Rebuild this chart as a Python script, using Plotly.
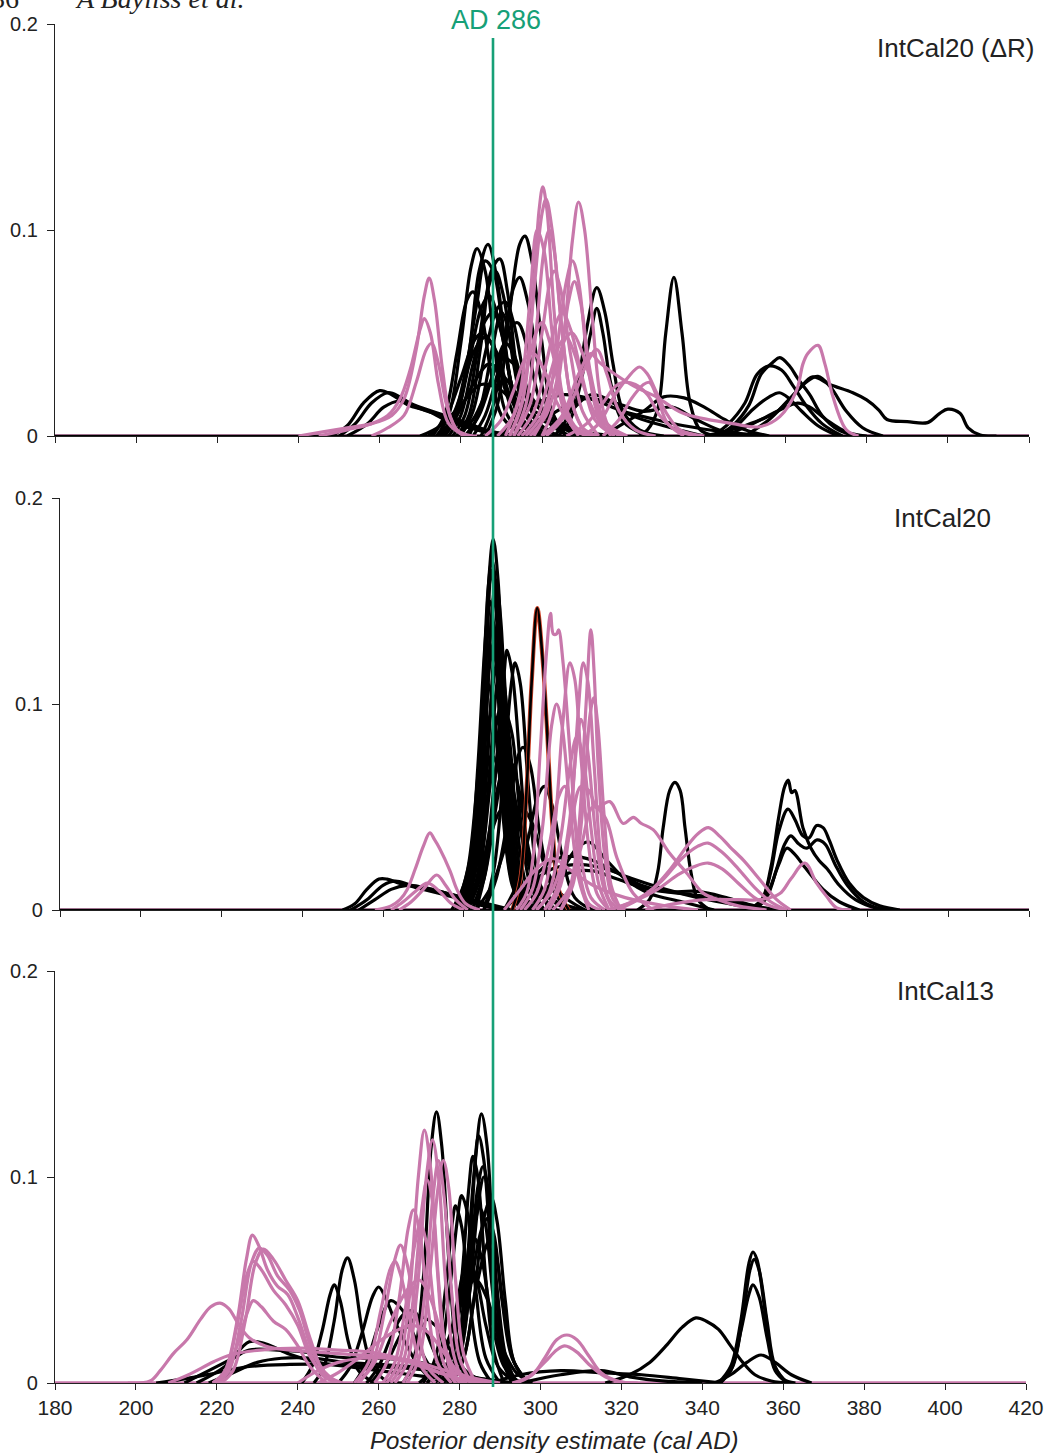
import plotly.graph_objects as go

# ---------------- DATA (year AD, posterior density) ----------------
X_RANGE = [180, 420]
X_TICKS = [180, 200, 220, 240, 260, 280, 300, 320, 340, 360, 380, 400, 420]
Y_TICKS = [0, 0.1, 0.2]
Y_TICKTEXT = ["0", "0.1", "0.2"]
BASE_X = [180, 420]
BASE_Y = [0, 0]
PANEL_LABELS = ["IntCal20 (\u0394R)", "IntCal20", "IntCal13"]
MARKER_LABEL = "AD 286"
X_TITLE = "Posterior density estimate (cal AD)"

# Panel 1: IntCal20 (ΔR)
P1_BLACK = [
    [(276,0),(279,0.01),(282,0.04),(284.5,0.08),(286.7,0.093),(289,0.075),(291.5,0.035),(294,0.01),(298,0.002),(302,0)],
    [(274,0),(277,0.01),(280,0.045),(282.5,0.082),(284,0.091),(286,0.08),(288.5,0.04),(291,0.012),(295,0.002),(300,0)],
    [(279,0),(282,0.01),(285,0.045),(287.5,0.08),(289.6,0.086),(291.5,0.07),(294,0.03),(297,0.008),(302,0)],
    [(286,0),(289,0.015),(292,0.06),(294.5,0.093),(295.8,0.097),(297.5,0.085),(300,0.045),(302.5,0.012),(306,0)],
    [(285,0),(288,0.015),(291,0.05),(293,0.072),(294.5,0.077),(296.5,0.065),(299,0.035),(302,0.01),(306,0)],
    [(273,0),(276,0.01),(279,0.04),(281.5,0.066),(283,0.07),(285,0.06),(287.5,0.03),(290,0.01),(295,0)],
    [(277,0),(280,0.01),(283,0.035),(286,0.056),(288,0.06),(290,0.05),(292.5,0.025),(295,0.008),(300,0)],
    [(272,0),(276,0.008),(280,0.028),(283.5,0.047),(285.5,0.05),(288,0.043),(291,0.022),(294,0.007),(299,0)],
    [(281,0),(284.5,0.01),(288,0.03),(291,0.045),(293,0.04),(296,0.02),(299,0.006),(304,0)],
    [(275,0),(279,0.01),(283,0.025),(287,0.035),(291,0.028),(296,0.015),(302,0.008),(308,0.003),(314,0)],
    [(275,0),(278,0.008),(281,0.03),(284,0.065),(286,0.085),(288,0.08),(290.5,0.05),(293,0.02),(296,0.005),(300,0)],
    [(278,0),(281,0.01),(284,0.04),(286.5,0.07),(288.5,0.08),(290.5,0.068),(293,0.035),(296,0.01),(300,0)],
    [(276,0),(279,0.01),(282,0.035),(285,0.062),(287,0.068),(289.5,0.055),(292.5,0.025),(296,0.006),(300,0)],
    [(280,0),(283,0.012),(286,0.04),(289,0.062),(291,0.065),(293,0.055),(296,0.025),(299,0.007),(304,0)],
    [(274,0),(277,0.006),(280,0.02),(283,0.04),(286,0.048),(289,0.04),(292,0.02),(296,0.006),(301,0)],
    [(283,0),(286,0.01),(289,0.03),(292,0.052),(294,0.055),(296.5,0.042),(299,0.02),(302,0.006),(307,0)],
    [(279,0),(283,0.008),(287,0.025),(290,0.038),(293,0.035),(297,0.02),(302,0.008),(309,0)],
    [(270,0),(275,0.005),(280,0.015),(285,0.025),(290,0.022),(295,0.012),(302,0.006),(310,0.002),(318,0)],
    [(248,0),(252,0.005),(256,0.016),(260,0.022),(263,0.02),(267,0.015),(272,0.012),(276,0.008),(282,0.004),(290,0)],
    [(250,0),(254,0.006),(258,0.016),(262,0.021),(265,0.019),(269,0.014),(275,0.01),(280,0.006),(288,0.002),(295,0)],
    [(252,0),(257,0.006),(261,0.014),(265,0.017),(270,0.014),(276,0.01),(282,0.006),(290,0)],
    [(303,0),(306,0.008),(309,0.028),(311,0.052),(313.5,0.072),(315.5,0.06),(317.5,0.035),(320,0.012),(324,0.003),(330,0)],
    [(304,0),(307,0.008),(310,0.03),(312,0.05),(313.5,0.062),(315,0.05),(317,0.025),(320,0.007),(326,0)],
    [(324,0),(326,0.003),(328.5,0.013),(330.5,0.05),(332.5,0.077),(334.5,0.05),(336.5,0.016),(339,0.003),(343,0)],
    [(343,0),(347,0.005),(351,0.015),(354,0.03),(357,0.036),(358.6,0.038),(361,0.034),(363,0.028),(366,0.02),(369,0.01),(373,0.003),(378,0)],
    [(342,0),(346,0.006),(350,0.016),(353,0.03),(356,0.034),(359,0.032),(362,0.024),(365,0.015),(369,0.006),(374,0)],
    [(344,0),(348,0.005),(352,0.013),(356,0.019),(358.5,0.021),(361,0.018),(364,0.012),(368,0.005),(373,0)],
    [(340,0),(350,0.005),(358,0.012),(363,0.022),(366.7,0.0287),(370.9,0.025),(376.6,0.021),(380,0.0175),(383,0.0126),(385,0.008),(390,0.007),(395,0.0065),(398,0.011),(400,0.013),(403,0.011),(405,0.004),(408,0.0005),(412,0)],
    [(350,0),(356,0.008),(361,0.018),(365,0.026),(368,0.029),(371,0.024),(375,0.012),(379,0.004),(384,0)],
    [(290,0),(298,0.015),(305,0.02),(312,0.018),(320,0.012),(328,0.008),(335,0.005),(345,0.002),(355,0)],
    [(295,0),(302,0.01),(310,0.018),(318,0.016),(325,0.012),(332,0.014),(338,0.008),(345,0.002),(352,0)],
    [(300,0),(307,0.012),(312,0.02),(316,0.018),(322,0.01),(330,0.005),(340,0)],
    [(345,0),(352,0.006),(358,0.012),(363,0.016),(366,0.014),(370,0.008),(375,0.002),(380,0)],
    [(282,0),(285,0.015),(288,0.045),(290,0.06),(292,0.05),(295,0.025),(300,0.012),(306,0.005),(312,0)],
    [(315,0),(320,0.006),(325,0.012),(330,0.019),(335,0.0185),(340,0.014),(345,0.008),(350,0.003),(356,0)],
]
P1_PINK = [
    [(240,0),(246,0.002),(252,0.004),(258,0.006),(263,0.01),(266,0.018),(269,0.042),(271,0.068),(272.2,0.0767),(273.5,0.066),(275.5,0.032),(277.5,0.009),(280,0.001),(284,0)],
    [(245,0),(252,0.003),(258,0.006),(262,0.01),(265,0.018),(267.5,0.032),(270,0.052),(271,0.057),(272.5,0.05),(274.5,0.025),(277,0.006),(281,0)],
    [(258,0),(262,0.004),(266,0.01),(269,0.026),(271.5,0.042),(272.8,0.045),(274.5,0.035),(276.5,0.015),(279,0.003),(283,0)],
    [(292,0),(295,0.015),(297.5,0.06),(299.3,0.11),(300.2,0.121),(301.2,0.11),(303,0.06),(305,0.02),(308,0.003),(312,0)],
    [(292,0),(295.5,0.02),(298,0.07),(300,0.108),(301,0.115),(302.5,0.1),(304.5,0.06),(307,0.02),(310,0.004),(314,0)],
    [(300,0),(303,0.015),(305.5,0.05),(307.5,0.095),(309,0.1136),(310.5,0.1),(312.5,0.055),(314.5,0.018),(317,0.003),(321,0)],
    [(291,0),(294.5,0.02),(297,0.065),(298.8,0.1),(300.5,0.09),(302.5,0.05),(305,0.015),(309,0)],
    [(293,0),(297,0.015),(300,0.05),(302,0.075),(303,0.08),(304.5,0.072),(307,0.04),(310,0.012),(314,0)],
    [(294,0),(298,0.012),(301,0.035),(303.5,0.055),(305,0.06),(307,0.052),(310,0.028),(313,0.008),(318,0)],
    [(296,0),(300,0.01),(303,0.03),(306,0.048),(307.5,0.05),(310,0.04),(313,0.02),(316,0.006),(321,0)],
    [(301,0),(305,0.008),(308,0.02),(311,0.035),(313.5,0.042),(316,0.03),(319,0.012),(323,0.003),(328,0)],
    [(286,0),(290,0.008),(293,0.022),(296,0.038),(298,0.04),(300.5,0.032),(304,0.015),(308,0.004),(313,0)],
    [(310,0),(314,0.006),(318,0.02),(321,0.028),(324,0.0335),(326,0.03),(328,0.022),(331,0.01),(334,0.003),(340,0)],
    [(306,0),(311,0.006),(315,0.016),(318,0.024),(320,0.026),(323,0.025),(326,0.02),(329,0.01),(333,0.003),(338,0)],
    [(315,0),(319,0.008),(322,0.018),(325,0.025),(326.5,0.026),(328.5,0.018),(331,0.006),(335,0)],
    [(300,0),(305,0.01),(309,0.03),(312,0.04),(314,0.036),(318,0.03),(322,0.025),(326,0.021),(328.2,0.019),(334.8,0.011),(347,0.006),(353.6,0.0045),(358.6,0.0094),(362.7,0.022),(364.3,0.035),(365.5,0.04),(368,0.044),(369.7,0.035),(371.7,0.019),(375,0.003),(378,0)],
    [(289,0),(293,0.01),(296,0.03),(298.5,0.05),(300,0.055),(302,0.045),(305,0.02),(308,0.005),(312,0)],
    [(297,0),(301,0.01),(304,0.03),(306.5,0.065),(308,0.075),(309.5,0.065),(312,0.03),(315,0.008),(319,0)],
    [(293,0),(296,0.015),(298.5,0.05),(300.5,0.09),(301.8,0.1),(303,0.09),(305,0.05),(307.5,0.015),(311,0)],
    [(298,0),(301,0.012),(303.5,0.04),(306,0.075),(307.5,0.085),(309,0.075),(311,0.04),(313.5,0.012),(317,0)],
    [(295,0),(299,0.01),(302,0.03),(304.5,0.045),(306,0.048),(308,0.04),(311,0.02),(315,0.005),(320,0)],
]

# Panel 2: IntCal20
P2_BLACK = [
    [(280,0),(282.5,0.02),(284.5,0.08),(286.2,0.16),(287.3,0.18),(288.5,0.16),(290,0.09),(291.8,0.03),(294,0.005),(297,0)],
    [(279.5,0),(282,0.02),(284.2,0.08),(286,0.155),(287,0.17),(288.3,0.15),(289.8,0.08),(291.5,0.025),(294,0)],
    [(280.5,0),(283,0.02),(285,0.07),(287,0.145),(288,0.16),(289.2,0.14),(290.8,0.075),(292.5,0.025),(295,0)],
    [(279,0),(281.5,0.02),(283.5,0.07),(285.5,0.135),(286.5,0.15),(287.8,0.13),(289.5,0.065),(291.3,0.02),(294,0)],
    [(281,0),(283.5,0.018),(285.8,0.07),(287.5,0.125),(288.5,0.14),(289.8,0.12),(291.5,0.06),(293.3,0.018),(296,0)],
    [(279,0),(282,0.02),(284.5,0.07),(286.5,0.12),(287.5,0.13),(289,0.115),(291,0.06),(293,0.02),(296,0)],
    [(281,0),(284,0.02),(286.5,0.07),(288.2,0.11),(289,0.12),(290.3,0.105),(292.3,0.05),(294.5,0.012),(297,0)],
    [(283,0),(285.5,0.02),(288,0.07),(290,0.115),(290.7,0.126),(292,0.115),(294,0.07),(296,0.025),(299,0)],
    [(285,0),(287.5,0.02),(290,0.07),(291.8,0.11),(292.7,0.12),(294,0.11),(296,0.06),(298,0.02),(301,0)],
    [(278,0),(281,0.02),(283.5,0.065),(285.3,0.1),(286,0.11),(287.5,0.095),(289.5,0.05),(292,0.012),(295,0)],
    [(281,0),(284,0.02),(286.5,0.06),(288.5,0.095),(289.5,0.1),(291,0.088),(293,0.045),(295.5,0.012),(299,0)],
    [(279,0),(281.5,0.015),(283.8,0.06),(285.8,0.13),(286.8,0.165),(288,0.145),(289.6,0.075),(291.5,0.02),(294,0)],
    [(280,0),(282.8,0.02),(285,0.075),(286.8,0.14),(287.8,0.155),(289,0.135),(290.6,0.07),(292.5,0.02),(295,0)],
    [(280,0),(283,0.02),(285.3,0.065),(287.3,0.11),(288.3,0.12),(289.7,0.105),(291.5,0.055),(293.5,0.016),(296,0)],
    [(278,0),(281,0.015),(283.5,0.05),(285.5,0.085),(286.8,0.095),(288.5,0.082),(290.5,0.042),(293,0.01),(296,0)],
    [(282,0),(285,0.018),(287.5,0.06),(289.5,0.09),(290.5,0.095),(292,0.085),(294,0.045),(296.5,0.012),(300,0)],
    [(277,0),(280,0.012),(283,0.04),(285.5,0.068),(287,0.075),(289,0.065),(291.5,0.035),(294,0.01),(298,0)],
    [(281,0),(284,0.015),(287,0.045),(290,0.07),(291.5,0.072),(293.5,0.06),(296,0.03),(299,0.008),(303,0)],
    [(279,0),(283,0.012),(286,0.032),(289,0.048),(291,0.05),(294,0.04),(297,0.02),(301,0.006),(306,0)],
    [(285,0),(288,0.015),(291,0.045),(293.5,0.075),(294.7,0.079),(296.5,0.07),(299,0.035),(302,0.01),(306,0)],
    [(290,0),(293,0.012),(296,0.035),(298.5,0.056),(300,0.06),(302,0.05),(304.5,0.025),(307.5,0.006),(312,0)],
    [(250,0),(253,0.003),(256,0.01),(259,0.015),(261,0.015),(264,0.013),(268,0.011),(272,0.009),(276,0.007),(280,0.005),(285,0.002),(290,0)],
    [(252,0),(256,0.005),(260,0.012),(263,0.014),(267,0.012),(272,0.01),(278,0.007),(284,0.004),(292,0)],
    [(254,0),(258,0.005),(262,0.01),(266,0.012),(270,0.011),(276,0.008),(282,0.005),(290,0)],
    [(323,0),(326,0.005),(328,0.018),(329.4,0.04),(331,0.058),(332.3,0.062),(333.6,0.058),(334.8,0.04),(336.3,0.018),(338,0.005),(341,0)],
    [(350,0),(353.8,0.005),(356,0.02),(358,0.045),(359.5,0.06),(360.4,0.063),(361.2,0.057),(362,0.058),(364,0.04),(366,0.03),(368,0.024),(370,0.02),(373,0.012),(377,0.005),(382,0.001),(386,0)],
    [(352,0),(354,0.005),(356,0.018),(358,0.038),(360.3,0.049),(362,0.044),(364,0.036),(365.5,0.035),(367.4,0.041),(369,0.04),(370.5,0.034),(372.5,0.024),(375.5,0.013),(379,0.006),(383,0.002),(388,0)],
    [(352,0),(355,0.006),(357.5,0.02),(359.5,0.032),(361,0.036),(363,0.032),(365,0.03),(367.5,0.034),(369.5,0.032),(372,0.022),(375,0.012),(379,0.004),(384,0)],
    [(352,0),(355,0.007),(358,0.022),(360,0.03),(362,0.027),(364,0.022),(366,0.017),(369,0.01),(373,0.004),(378,0)],
    [(292,0),(297,0.015),(302,0.024),(307,0.026),(312,0.024),(318,0.018),(324,0.012),(330,0.009),(338,0.009),(345,0.006),(352,0.002),(358,0)],
    [(290,0),(296,0.012),(302,0.02),(309,0.022),(315,0.02),(322,0.015),(330,0.01),(338,0.006),(346,0.003),(355,0)],
    [(295,0),(300,0.01),(306,0.018),(312,0.019),(318,0.015),(326,0.01),(334,0.008),(342,0.006),(350,0.002),(356,0)],
    [(296,0),(302,0.012),(308,0.03),(311,0.033),(315,0.025),(320,0.015),(326,0.008),(334,0.004),(342,0)],
    [(282,0),(285,0.015),(288,0.05),(290,0.07),(292,0.06),(295,0.03),(298,0.012),(303,0.004),(310,0)],
    [(283,0),(287,0.012),(291,0.035),(294,0.05),(297,0.042),(300,0.022),(304,0.008),(310,0)],
]
# the black curve outlined in red
P2_OUTLINED = [(292,0),(294,0.015),(295.6,0.06),(296.8,0.11),(298.2,0.1466),(299.6,0.12),(300.5,0.092),(302,0.04),(303.5,0.01),(306,0)]
P2_PINK = [
    [(258,0),(262,0.002),(264.2,0.005),(266,0.01),(268,0.02),(270,0.031),(271.6,0.0374),(272.8,0.034),(274,0.03),(276.6,0.019),(278.3,0.01),(280.5,0.003),(284,0)],
    [(264,0),(267,0.004),(270,0.01),(273.3,0.017),(275.5,0.012),(278,0.005),(281,0)],
    [(262,0),(265,0.004),(268,0.009),(271,0.013),(274,0.009),(277,0.003),(280,0)],
    [(293,0),(295.5,0.008),(297.3,0.028),(298.9,0.076),(300.5,0.125),(301.5,0.144),(302.2,0.134),(303,0.134),(303.5,0.136),(304.6,0.12),(306,0.085),(307.5,0.045),(309,0.015),(311,0.003),(314,0)],
    [(297,0),(300,0.01),(302.5,0.04),(304.5,0.09),(306.3,0.12),(307.5,0.112),(309,0.075),(311,0.03),(313,0.008),(316,0)],
    [(301,0),(304,0.012),(306.5,0.045),(308.3,0.095),(309.6,0.12),(310.8,0.11),(312.3,0.07),(314,0.025),(316,0.005),(319,0)],
    [(304,0),(306.5,0.012),(308.5,0.04),(310.3,0.1),(311.5,0.136),(312.3,0.115),(313.3,0.07),(315,0.025),(317,0.005),(320,0)],
    [(304,0),(307,0.012),(309.5,0.05),(311.3,0.095),(312.2,0.103),(313.2,0.09),(314.8,0.045),(316.5,0.012),(319,0)],
    [(300,0),(303,0.01),(306,0.04),(308,0.08),(309,0.0925),(310.5,0.08),(312.5,0.04),(314.5,0.012),(317,0)],
    [(298,0),(301,0.008),(304,0.035),(306.5,0.072),(308,0.084),(309.5,0.075),(311.5,0.04),(313.5,0.012),(316,0)],
    [(295,0),(298,0.008),(301,0.03),(303.5,0.055),(305,0.06),(306.8,0.05),(309,0.025),(311.5,0.006),(315,0)],
    [(298,0),(302,0.01),(306,0.035),(309,0.06),(311,0.058),(313,0.05),(316.2,0.0526),(319.5,0.042),(322,0.045),(324,0.042),(326.9,0.039),(331,0.0275),(335.2,0.018),(339.3,0.0082),(343,0.005),(348,0.002),(355,0)],
    [(316,0),(322.8,0.005),(326.9,0.0106),(331,0.0194),(335.2,0.0307),(338,0.037),(340.6,0.04),(343.5,0.0356),(345.9,0.0307),(349.2,0.0243),(353.4,0.0146),(357.5,0.005),(361,0)],
    [(318,0),(324,0.006),(329,0.014),(334,0.025),(338,0.031),(340.5,0.0325),(344,0.028),(348,0.02),(352,0.011),(356,0.004),(360,0)],
    [(316,0),(322,0.004),(328,0.01),(333,0.017),(337,0.021),(340.5,0.0228),(344,0.02),(348,0.013),(352,0.006),(356,0.002),(360,0)],
    [(325,0),(332,0.003),(340,0.005),(348,0.005),(353.4,0.005),(358.3,0.008),(361,0.015),(364.5,0.0228),(367.4,0.013),(369.9,0.0065),(372.4,0.001),(376,0)],
    [(290,0),(294,0.01),(298,0.02),(302,0.025),(306,0.02),(312,0.012),(320,0.006),(330,0.002),(338,0)],
    [(294,0),(297,0.01),(299.5,0.04),(301.8,0.09),(303,0.1),(304.3,0.09),(306.3,0.05),(308.5,0.015),(311,0)],
    [(302,0),(306,0.01),(309,0.03),(312,0.05),(315,0.045),(318,0.025),(322,0.008),(327,0)],
]

# Panel 3: IntCal13
P3_BLACK = [
    [(266,0),(268.5,0.01),(271,0.05),(273,0.115),(274.3,0.1316),(275.6,0.115),(277.5,0.055),(279.5,0.015),(282,0.002),(285,0)],
    [(277,0),(279.5,0.012),(282,0.05),(284,0.11),(285.4,0.1306),(286.8,0.115),(288.5,0.06),(290.5,0.018),(293,0.003),(296,0)],
    [(276,0),(279,0.012),(281.5,0.05),(283.5,0.1),(284.7,0.12),(286,0.108),(288,0.055),(290,0.016),(293,0)],
    [(275,0),(278,0.012),(280.5,0.05),(282.3,0.095),(283.3,0.11),(284.5,0.1),(286.5,0.05),(288.5,0.015),(291,0)],
    [(277,0),(280,0.012),(282.5,0.045),(284.8,0.09),(286,0.1),(287.3,0.09),(289.3,0.045),(291.5,0.012),(294,0)],
    [(272,0),(275,0.012),(277.5,0.045),(279.5,0.08),(280.5,0.091),(282,0.082),(284,0.045),(286.5,0.012),(290,0)],
    [(271,0),(274,0.012),(276.5,0.045),(278.2,0.078),(279,0.086),(280.5,0.076),(282.5,0.04),(285,0.01),(288,0)],
    [(276,0),(279,0.012),(281.5,0.045),(283.8,0.078),(285,0.085),(286.3,0.078),(288.3,0.042),(290.5,0.012),(293,0)],
    [(277,0),(280,0.015),(283,0.05),(285.5,0.075),(287,0.08),(288.5,0.072),(290.5,0.04),(293,0.012),(297,0)],
    [(278,0),(281,0.012),(284,0.045),(286.5,0.066),(287.5,0.07),(289,0.062),(291,0.035),(293.5,0.01),(297,0)],
    [(272,0),(276,0.012),(279,0.035),(281,0.055),(282,0.06),(284,0.052),(286.5,0.028),(289.5,0.008),(294,0)],
    [(276,0),(279,0.012),(282,0.045),(284.5,0.095),(285.8,0.105),(287.2,0.092),(289,0.05),(291,0.015),(294,0)],
    [(278,0),(281,0.012),(283.5,0.04),(286,0.08),(287.8,0.09),(289.3,0.078),(291.3,0.04),(293.5,0.01),(297,0)],
    [(274,0),(277,0.01),(280,0.035),(282.5,0.065),(283.8,0.07),(285.5,0.06),(288,0.03),(291,0.008),(295,0)],
    [(270,0),(274,0.008),(278,0.025),(281.5,0.045),(284,0.05),(287,0.04),(290,0.02),(294,0.005),(298,0)],
    [(244,0),(246.5,0.008),(249,0.03),(251,0.055),(252.3,0.0607),(254,0.05),(256,0.025),(258.5,0.008),(262,0.001),(266,0)],
    [(241,0),(243.5,0.008),(246,0.025),(248,0.043),(249,0.0476),(250.5,0.04),(252.5,0.02),(255,0.006),(259,0)],
    [(250,0),(253,0.008),(256,0.025),(258.5,0.042),(260,0.0466),(262,0.04),(264,0.03),(267,0.018),(270,0.008),(274,0)],
    [(254,0),(257,0.01),(260,0.028),(263,0.04),(266,0.035),(269,0.022),(272,0.01),(276,0)],
    [(257,0),(260,0.008),(263,0.022),(266,0.033),(268.5,0.035),(271,0.028),(274,0.014),(277,0.004),(281,0)],
    [(212,0),(218,0.006),(224,0.012),(228,0.016),(235,0.016),(242,0.015),(248,0.013),(255,0.012),(262,0.012),(270,0.01),(278,0.006),(285,0.002),(292,0)],
    [(215,0),(222,0.008),(228,0.02),(232,0.019),(238,0.014),(245,0.01),(252,0.008),(260,0.006),(268,0.004),(276,0.002),(285,0)],
    [(218,0),(224,0.005),(230,0.01),(236,0.012),(244,0.012),(252,0.01),(260,0.009),(268,0.008),(276,0.006),(284,0.002),(290,0)],
    [(316,0),(322,0.004),(327,0.01),(331,0.018),(335,0.027),(338.4,0.0316),(341,0.03),(344,0.026),(347,0.018),(350,0.01),(353,0.004),(357,0.001),(362,0)],
    [(344,0),(347,0.008),(349.5,0.03),(351.5,0.058),(352.5,0.0636),(353.5,0.06),(355.5,0.035),(357.5,0.01),(360,0.002),(363,0)],
    [(344.5,0),(347.5,0.008),(350,0.032),(351.8,0.055),(352.8,0.06),(354,0.055),(356,0.03),(358,0.008),(361,0)],
    [(344,0),(347,0.006),(349.5,0.025),(351.5,0.043),(352.5,0.0476),(354,0.042),(356,0.022),(358,0.006),(361,0)],
    [(343,0),(347,0.004),(351,0.01),(354.5,0.0136),(358,0.01),(362,0.004),(367,0)],
    [(288,0),(295,0.004),(305,0.006),(315,0.005),(325,0.004),(335,0.002),(345,0)],
    [(295,0),(305,0.004),(315,0.006),(322,0.003),(330,0.001),(340,0)],
    [(258,0),(262,0.01),(266,0.025),(270,0.032),(274,0.028),(278,0.015),(282,0.005),(287,0)],
    [(205,0),(212,0.002),(220,0.005),(228,0.008),(238,0.009),(248,0.009),(258,0.008),(268,0.007),(278,0.005),(286,0.002),(294,0)],
]
P3_PINK = [
    [(262,0),(265,0.01),(267.5,0.04),(269.8,0.1),(271.3,0.1228),(272.8,0.105),(274.5,0.055),(276.5,0.015),(279,0.002),(282,0)],
    [(264,0),(267,0.01),(269.5,0.045),(271.8,0.1),(273.3,0.118),(274.8,0.1),(276.5,0.05),(278.5,0.014),(281,0)],
    [(266,0),(269,0.012),(271.5,0.045),(273.5,0.092),(274.8,0.108),(276.2,0.09),(278,0.045),(280,0.012),(283,0)],
    [(267,0),(270,0.012),(272.5,0.05),(274.7,0.095),(276,0.108),(277.3,0.095),(279,0.05),(281,0.014),(284,0)],
    [(263,0),(266,0.01),(268.5,0.04),(270.7,0.085),(272,0.0985),(273.3,0.088),(275,0.045),(277,0.012),(280,0)],
    [(259,0),(262,0.01),(265,0.04),(267.3,0.075),(268.6,0.084),(270,0.075),(272,0.04),(274.5,0.01),(278,0)],
    [(261,0),(264,0.01),(266.5,0.035),(269,0.068),(270.3,0.077),(271.8,0.068),(273.8,0.035),(276,0.01),(279,0)],
    [(255,0),(258.5,0.01),(261.5,0.035),(264,0.06),(265.4,0.067),(267,0.058),(269.5,0.03),(272,0.008),(276,0)],
    [(254,0),(257.5,0.01),(260.5,0.035),(262.8,0.055),(264,0.059),(265.5,0.052),(268,0.028),(270.5,0.008),(274,0)],
    [(219,0),(222,0.006),(225,0.03),(227.3,0.06),(228.8,0.0718),(230.5,0.066),(232.5,0.055),(235,0.047),(237.5,0.043),(240,0.032),(243,0.015),(246,0.004),(250,0)],
    [(220,0),(223,0.006),(226,0.03),(228.5,0.058),(230.5,0.0655),(232.5,0.062),(235,0.052),(238,0.045),(240.5,0.035),(243.5,0.016),(247,0.004),(251,0)],
    [(221,0),(224,0.006),(227,0.03),(229.5,0.058),(231.5,0.065),(234,0.06),(237,0.05),(240,0.04),(243,0.022),(246,0.007),(250,0)],
    [(219,0),(222,0.005),(225,0.028),(227.5,0.053),(229,0.059),(231,0.055),(234,0.045),(237,0.038),(240,0.028),(243,0.013),(247,0.003),(251,0)],
    [(219,0),(222,0.004),(225,0.018),(227.5,0.034),(229,0.04),(231,0.037),(234,0.03),(237,0.026),(240,0.018),(243,0.008),(247,0)],
    [(198,0),(203.5,0.001),(206,0.006),(209.3,0.0144),(212.6,0.021),(216,0.031),(218.5,0.037),(220.8,0.0388),(223,0.036),(225.5,0.028),(228,0.022),(232,0.018),(238,0.016),(245,0.015),(252,0.014),(260,0.013),(268,0.011),(275,0.007),(282,0.003),(290,0)],
    [(208,0),(213,0.004),(219.2,0.0103),(223.3,0.0136),(230.7,0.016),(240.6,0.017),(250,0.016),(258,0.015),(265,0.012),(272,0.007),(280,0.002),(288,0)],
    [(294,0),(298,0.004),(301,0.012),(304,0.021),(306.5,0.0233),(309,0.021),(312,0.013),(315,0.005),(319,0.001),(324,0)],
    [(293,0),(297,0.003),(301,0.01),(304,0.016),(306,0.018),(309,0.015),(312,0.009),(316,0.003),(321,0)],
    [(245,0),(250,0.005),(255,0.012),(260,0.02),(264,0.025),(268,0.028),(272,0.025),(276,0.015),(280,0.005),(285,0)],
    [(240,0),(245,0.006),(250,0.01),(256,0.012),(262,0.012),(268,0.01),(274,0.006),(280,0.002),(286,0)],
    [(255,0),(259,0.01),(263,0.03),(267,0.045),(270,0.05),(273,0.04),(276,0.02),(279,0.006),(283,0)],
]

# ---------------- STYLE / LAYOUT ----------------
W, H = 1052, 1453
BLACK = "#000000"
PINK = "#C878AB"
GREEN = "#16A077"
RED = "#D2452A"
AXIS = "#222222"
FONT = "Liberation Sans, Arial, sans-serif"
LW = 3.2


def px(x):
    return x / W


def py(y):
    return 1 - y / H


# (x-left px, x-right px, y zero px, y top px)
PANEL_GEOM = [(55, 1029, 436, 24), (60, 1029, 910, 498), (55, 1026, 1383, 971)]
PANEL_BLACK = [P1_BLACK, P2_BLACK, P3_BLACK]
PANEL_PINK = [P1_PINK, P2_PINK, P3_PINK]
LABEL_POS = [(1037, 48), (993, 518), (996, 991)]

fig = go.Figure()


def add_line(curve, color, width, xa, ya):
    fig.add_trace(go.Scatter(
        x=[p[0] for p in curve], y=[p[1] for p in curve], mode="lines",
        line=dict(color=color, width=width, shape="spline", smoothing=1.0),
        xaxis=xa, yaxis=ya, hoverinfo="skip", showlegend=False))


layout_axes = {}
for i in range(3):
    suf = "" if i == 0 else str(i + 1)
    xa, ya = "x" + suf, "y" + suf
    xl, xr, y0, y1 = PANEL_GEOM[i]
    # baselines
    fig.add_trace(go.Scatter(x=BASE_X, y=BASE_Y, mode="lines",
                             line=dict(color=PINK, width=3.6), xaxis=xa, yaxis=ya,
                             hoverinfo="skip", showlegend=False))
    if i < 2:
        fig.add_trace(go.Scatter(x=BASE_X, y=BASE_Y, mode="lines",
                                 line=dict(color=BLACK, width=2.4), xaxis=xa, yaxis=ya,
                                 hoverinfo="skip", showlegend=False))
    for c in PANEL_BLACK[i]:
        add_line(c, BLACK, LW, xa, ya)
    if i == 1:
        add_line(P2_OUTLINED, RED, 4.2, xa, ya)
        add_line(P2_OUTLINED, BLACK, 2.6, xa, ya)
    for c in PANEL_PINK[i]:
        add_line(c, PINK, LW, xa, ya)

    layout_axes["xaxis" + suf] = dict(
        domain=[px(xl), px(xr)], range=X_RANGE, anchor=ya, automargin=False,
        tickmode="array", tickvals=X_TICKS, ticks="outside", ticklen=6,
        tickwidth=1, tickcolor=AXIS, showline=True, linecolor=AXIS, linewidth=1.2,
        showgrid=False, zeroline=False, showticklabels=(i == 2),
        tickfont=dict(family=FONT, size=21, color=AXIS), ticklabelstandoff=0,
        fixedrange=True)
    layout_axes["yaxis" + suf] = dict(
        domain=[py(y0), py(y1)], range=[0, 0.2], anchor=xa, automargin=False,
        tickmode="array", tickvals=Y_TICKS, ticktext=Y_TICKTEXT, ticks="outside",
        ticklen=7, tickwidth=1, tickcolor=AXIS, showline=True, linecolor=AXIS,
        linewidth=1.2, showgrid=False, zeroline=False,
        tickfont=dict(family=FONT, size=20, color=AXIS), ticklabelstandoff=5,
        fixedrange=True)

annotations = []
for i, lab in enumerate(PANEL_LABELS):
    lx, ly = LABEL_POS[i]
    annotations.append(dict(text=lab, x=px(lx), y=py(ly), xref="paper", yref="paper",
                            xanchor="right", yanchor="middle", showarrow=False,
                            font=dict(family=FONT, size=26, color=AXIS)))
annotations.append(dict(text=MARKER_LABEL, x=px(496), y=py(20), xref="paper", yref="paper",
                        xanchor="center", yanchor="middle", showarrow=False,
                        font=dict(family=FONT, size=27, color=GREEN)))
annotations.append(dict(text="<i>" + X_TITLE + "</i>", x=px(554), y=py(1440), xref="paper",
                        yref="paper", xanchor="center", yanchor="middle", showarrow=False,
                        font=dict(family=FONT, size=24, color=AXIS)))
# clipped running header at the top of the page
annotations.append(dict(text="36", x=px(21), y=py(-2), xref="paper", yref="paper",
                        xanchor="right", yanchor="middle", showarrow=False,
                        font=dict(family="Liberation Serif, serif", size=28, color=AXIS)))
annotations.append(dict(text="<i>A Bayliss et al.</i>", x=px(73), y=py(-2), xref="paper",
                        yref="paper", xanchor="left", yanchor="middle", showarrow=False,
                        font=dict(family="Liberation Serif, serif", size=28, color=AXIS)))

shapes = [dict(type="line", xref="paper", yref="paper", x0=px(493), x1=px(493),
               y0=py(1387), y1=py(38), line=dict(color=GREEN, width=2.6), layer="above")]

fig.update_layout(width=W, height=H, margin=dict(l=0, r=0, t=0, b=0, autoexpand=False),
                  paper_bgcolor="white", plot_bgcolor="white",
                  annotations=annotations, shapes=shapes, **layout_axes)

fig.write_html("out.html", config={"displayModeBar": False},
               post_script="document.body.style.margin='0px';document.body.style.overflow='hidden';")
